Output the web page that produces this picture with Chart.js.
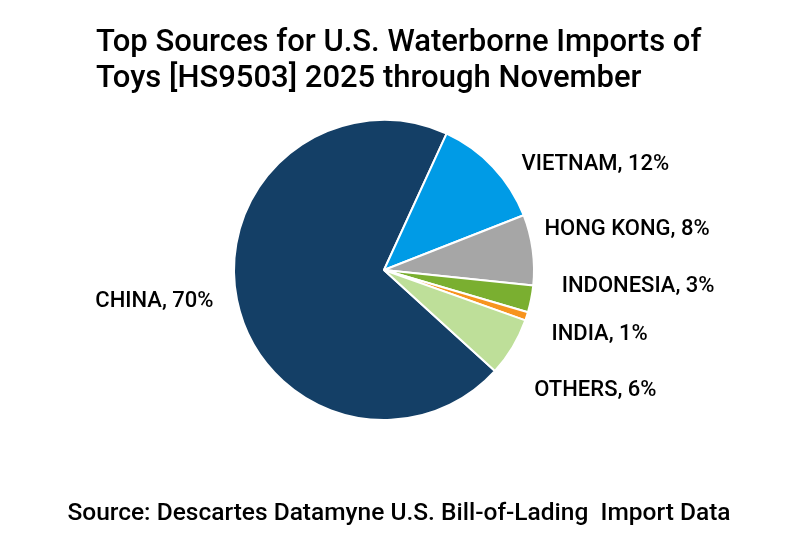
<!DOCTYPE html>
<html>
<head>
<meta charset="utf-8">
<script src="https://cdn.jsdelivr.net/npm/chart.js@4/dist/chart.umd.min.js"></script>
<style>
  html, body { margin: 0; padding: 0; background: #ffffff; }
  #wrap { position: relative; width: 800px; height: 546px; }
  canvas { display: block; }
</style>
</head>
<body>
<div id="wrap"><canvas id="c" width="800" height="546"></canvas></div>
<script>
// ---- data ----
const categories = ["CHINA", "VIETNAM", "HONG KONG", "INDONESIA", "INDIA", "OTHERS"];
const shares = [70.1, 12.2, 7.6, 2.9, 0.9, 6.3];
const titleLines = ["Top Sources for U.S. Waterborne Imports of", "Toys [HS9503] 2025 through November"];
const sourceNote = "Source: Descartes Datamyne U.S. Bill-of-Lading  Import Data";

// ---- styles ----
const sliceColors = ["#143F66", "#009BE6", "#A6A6A6", "#7AAF30", "#F7941E", "#BEDF99"];
const FONT = "Roboto, 'Noto Sans', sans-serif";

// label nudges (relative to radial anchor), styling only
const labelNudge = {
  "CHINA": [0, -3],
  "VIETNAM": [11, 14],
  "HONG KONG": [-12, -17],
  "INDONESIA": [7, -17],
  "INDIA": [2, 11],
  "OTHERS": [1, 31]
};

const textPlugin = {
  id: 'textPlugin',
  afterDraw(chart) {
    const ctx = chart.ctx;
    ctx.save();
    ctx.fillStyle = '#000000';
    // title
    ctx.font = "500 31px " + FONT;
    ctx.textAlign = 'left';
    ctx.textBaseline = 'alphabetic';
    ctx.fillText(titleLines[0], 96, 51);
    ctx.fillText(titleLines[1], 96, 87);
    // source
    ctx.font = "500 24.5px " + FONT;
    ctx.textAlign = 'center';
    ctx.fillText(sourceNote, 399, 520);
    // slice labels
    const meta = chart.getDatasetMeta(0);
    const total = shares.reduce((a, b) => a + b, 0);
    ctx.font = "500 22px " + FONT;
    ctx.textBaseline = 'middle';
    meta.data.forEach((arc, i) => {
      const p = arc.getProps(['x', 'y', 'startAngle', 'endAngle', 'outerRadius'], true);
      const mid = (p.startAngle + p.endAngle) / 2;
      const r = p.outerRadius + 24;
      let x = p.x + Math.cos(mid) * r;
      let y = p.y + Math.sin(mid) * r;
      const n = labelNudge[categories[i]] || [0, 0];
      x += n[0]; y += n[1];
      ctx.textAlign = Math.cos(mid) >= 0 ? 'left' : 'right';
      const pct = Math.round(shares[i] / total * 100);
      ctx.fillText(categories[i] + ", " + pct + "%", x, y);
    });
    ctx.restore();
  }
};

new Chart(document.getElementById('c'), {
  type: 'pie',
  data: {
    labels: categories,
    datasets: [{
      data: shares,
      backgroundColor: sliceColors,
      borderColor: '#ffffff',
      borderWidth: 2
    }]
  },
  options: {
    responsive: false,
    animation: false,
    rotation: 132.3,
    layout: { padding: { top: 119, bottom: 125, left: 233, right: 265 } },
    plugins: {
      legend: { display: false },
      title: { display: false },
      tooltip: { enabled: false }
    }
  },
  plugins: [textPlugin]
});
</script>
</body>
</html>
